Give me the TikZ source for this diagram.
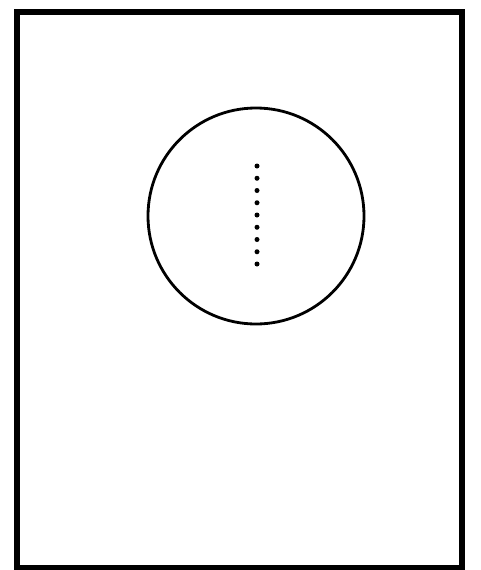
\documentclass[tikz,border=0pt]{standalone}
\begin{document}
\begin{tikzpicture}[x=1pt,y=-1pt,
  frame/.style={draw=black,line width=6pt,rectangle,inner sep=0pt,minimum width=445pt,minimum height=556pt},
  ring/.style={draw=black,line width=2.8pt,circle,inner sep=0pt,minimum size=216pt},
  dotmark/.style={fill=black,circle,inner sep=0pt,minimum size=5pt}]
\useasboundingbox (0,0) rectangle (480,570);
\fill[white] (0,0) rectangle (480,570);
\node[frame] (box) at (239.5,290) {};
\node[ring] (disc) at (256,216) {};
\foreach \i in {0,...,8}{
  \node[dotmark] (d\i) at (257,{166+12.25*\i}) {};
}
\end{tikzpicture}
\end{document}
